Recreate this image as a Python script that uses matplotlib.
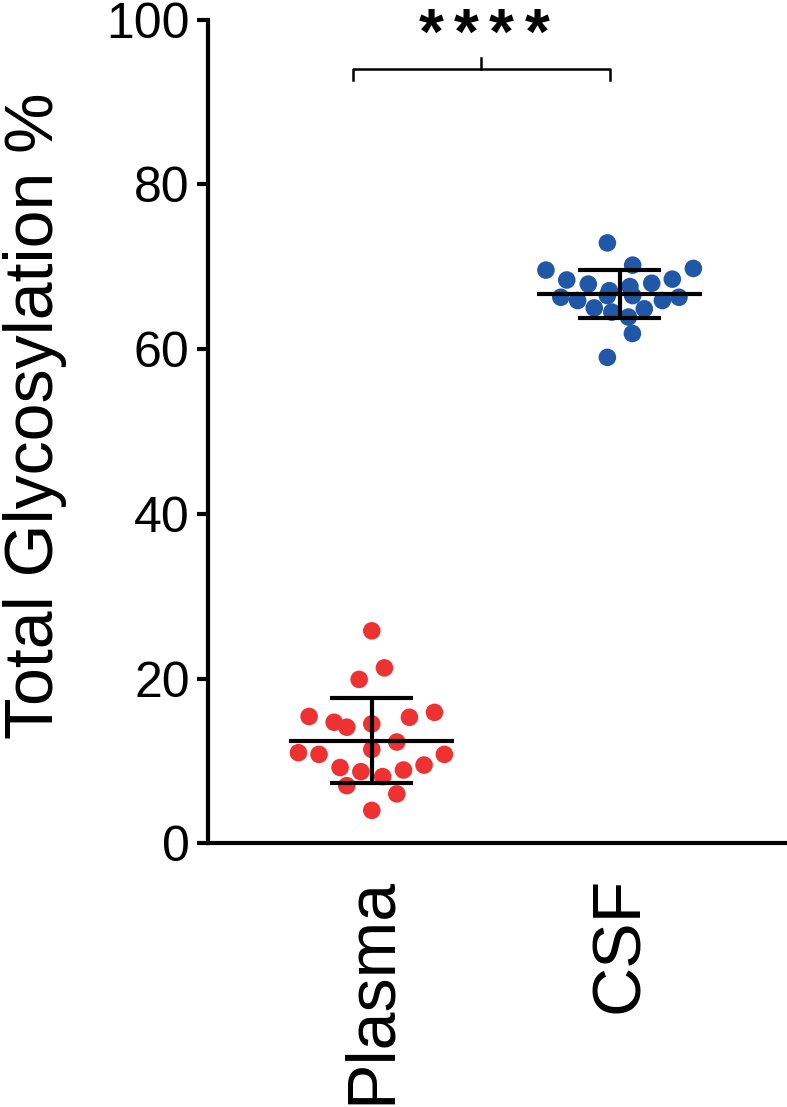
import numpy as np
import matplotlib
matplotlib.use("Agg")
import matplotlib.pyplot as plt

plt.rcParams['font.family'] = ['Liberation Sans', 'DejaVu Sans']

groups = ["Plasma", "CSF"]
colors = ["#EE3131", "#2057A7"]

plasma = [25.8, 21.3, 19.9, 15.4, 14.7, 14.1, 14.5, 15.3, 15.9, 12.3, 11.0,
          10.8, 11.4, 10.8, 9.2, 8.7, 8.1, 8.9, 9.5, 7.0, 6.0, 4.0]
plasma_jitter = [0, 0.051, -0.051, -0.253, -0.152, -0.101, 0, 0.152, 0.253, 0.101, -0.296,
                 -0.213, 0, 0.293, -0.128, -0.044, 0.044, 0.128, 0.211, -0.101, 0.101, 0]

csf = [72.9, 69.6, 70.2, 69.8, 68.4, 67.9, 67.1, 67.6, 68.0, 68.5, 66.3,
       65.9, 66.5, 66.5, 65.9, 66.3, 65.0, 64.5, 64.9, 63.9, 61.9, 59.0]
csf_jitter = [-0.049, -0.297, 0.053, 0.298, -0.213, -0.126, -0.041, 0.042, 0.130, 0.213, -0.237,
              -0.169, -0.049, 0.053, 0.173, 0.240, -0.102, -0.031, 0.100, 0.036, 0.052, -0.049]

values = [plasma, csf]
jitters = [plasma_jitter, csf_jitter]

fig = plt.figure(figsize=(7.87, 11.07), dpi=100)
ax = fig.add_axes([0.264, 0.2382, 0.736, 0.744])

for i, (vals, jit) in enumerate(zip(values, jitters)):
    ax.scatter(i + np.array(jit), vals, s=160, color=colors[i], edgecolors='none', zorder=2)
    m = np.mean(vals)
    sd = np.std(vals, ddof=1)
    # mean line and SD whiskers
    ax.plot([i - 0.333, i + 0.333], [m, m], color='black', lw=3, zorder=3, solid_capstyle='butt')
    ax.plot([i - 0.167, i + 0.167], [m + sd, m + sd], color='black', lw=3, zorder=3, solid_capstyle='butt')
    ax.plot([i - 0.167, i + 0.167], [m - sd, m - sd], color='black', lw=3, zorder=3, solid_capstyle='butt')
    ax.plot([i, i], [m - sd, m + sd], color='black', lw=3, zorder=3, solid_capstyle='butt')

# significance bracket
ax.plot([-0.075, -0.075, 0.96, 0.96], [92.7, 94.0, 94.0, 92.7], color='black', lw=1.8, clip_on=False)
ax.plot([0.4425, 0.4425], [94.0, 95.3], color='black', lw=1.8, clip_on=False)
for k in range(4):
    ax.text(0.238 + 0.1427 * k, 95.9, "*", ha='center', va='baseline', fontsize=46,
            fontweight='bold', clip_on=False)

ax.set_xlim(-0.662, 1.676)
ax.set_ylim(0, 100)
ax.set_yticks([0, 20, 40, 60, 80, 100])
ax.set_xticks([0, 1])
ax.set_xticklabels(groups, rotation=90, fontsize=49)
ax.tick_params(axis='x', length=0, pad=24)
ax.tick_params(axis='y', length=8, width=3, labelsize=36, pad=5)
ax.set_ylabel("Total Glycosylation %", fontsize=49)
ax.yaxis.set_label_coords(-0.243, 0.519)

for s in ['top', 'right']:
    ax.spines[s].set_visible(False)
for s in ['left', 'bottom']:
    ax.spines[s].set_linewidth(3)

fig.savefig("out.png", dpi=100)
